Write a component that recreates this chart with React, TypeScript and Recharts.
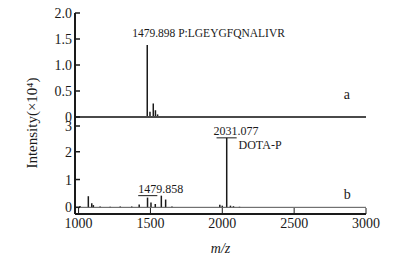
import { Bar, ComposedChart, ReferenceDot, ReferenceLine, XAxis, YAxis } from "recharts";

const font = '"Liberation Serif", "Times New Roman", serif';
const ink = "#1a1a1a";

// m/z axis shared by both spectra
const mzDomain = [975, 3000];
const mzTicks = [1000, 1500, 2000, 2500, 3000];

// spectrum a (peptide)
const topMz = [1080, 1480, 1499, 1522, 1537, 1552, 1610, 1700];
const topIntensity = [0.02, 1.385, 0.1, 0.26, 0.13, 0.05, 0.02, 0.015];
const topTicks = [0, 0.5, 1, 1.5, 2];

// spectrum b (DOTA-P)
const bottomMz = [
  1010, 1068, 1092, 1103, 1150, 1220, 1290, 1370, 1422, 1480, 1504, 1534, 1576,
  1606, 1650, 1983, 2000, 2031, 2057, 2078, 2120,
];
const bottomIntensity = [
  0.05, 0.4, 0.15, 0.08, 0.03, 0.02, 0.03, 0.03, 0.1, 0.35, 0.17, 0.12, 0.42,
  0.28, 0.03, 0.09, 0.06, 2.5, 0.06, 0.04, 0.02,
];
const bottomTicks = [0, 1, 2, 3];

const topData = topMz.map((mz, i) => ({ mz, intensity: topIntensity[i] }));
const bottomData = bottomMz.map((mz, i) => ({ mz, intensity: bottomIntensity[i] }));

const noteStyle = { fill: ink, fontSize: 12, fontFamily: font };

// ticks point inward, so draw the mark and the text together
function LeftTick(props: any) {
  const { x, y, payload, fmt } = props;
  const v = payload.value as number;
  return (
    <g>
      <line x1={x + 3} x2={x + 8} y1={y} y2={y} stroke={ink} strokeWidth={1.5} />
      <text x={x} y={y} dy="0.36em" textAnchor="end" fill={ink} fontSize={14} fontFamily={font}>
        {fmt ? fmt(v) : v}
      </text>
    </g>
  );
}

function BottomTick(props: any) {
  const { x, y, payload } = props;
  return (
    <g>
      <line x1={x} x2={x} y1={y - 4} y2={y - 10} stroke={ink} strokeWidth={1} />
      <text x={x} y={y} dy="0.72em" textAnchor="middle" fill={ink} fontSize={14} fontFamily={font}>
        {payload.value}
      </text>
    </g>
  );
}

const fmtTop = (v: number) => (v === 0 ? "0" : v.toFixed(1));

export default function App() {
  return (
    <div
      style={{
        position: "absolute",
        left: 0,
        top: 0,
        width: 413,
        height: 268,
        background: "#fff",
        fontFamily: font,
      }}
    >
      <div style={{ position: "absolute", left: 0, top: 0 }}>
        <ComposedChart
          width={413}
          height={130}
          data={topData}
          margin={{ top: 13, right: 47, bottom: 13, left: 0 }}
        >
          <XAxis
            dataKey="mz"
            type="number"
            domain={mzDomain}
            allowDataOverflow
            tick={false}
            tickLine={false}
            axisLine={false}
            height={0}
          />
          <YAxis
            type="number"
            domain={[0, 2]}
            ticks={topTicks}
            allowDataOverflow
            width={75}
            tickSize={0}
            tickMargin={3}
            tickLine={false}
            tick={(p: any) => <LeftTick {...p} fmt={fmtTop} />}
            axisLine={{ stroke: ink, strokeWidth: 2 }}
          />
          <ReferenceLine y={0} stroke="#4a4a4a" strokeWidth={2} />
          <Bar dataKey="intensity" barSize={1.5} fill={ink} isAnimationActive={false} />
          <ReferenceDot
            x={1373}
            y={1.615}
            r={0}
            stroke="none"
            fill="none"
            label={{ value: "1479.898 P:LGEYGFQNALIVR", position: "right", offset: 0, ...noteStyle, fontSize: 11.5 }}
          />
          <ReferenceDot
            x={2846}
            y={0.44}
            r={0}
            stroke="none"
            fill="none"
            label={{ value: "a", position: "right", offset: 0, ...noteStyle, fontSize: 14 }}
          />
        </ComposedChart>
      </div>
      <div style={{ position: "absolute", left: 0, top: 117 }}>
        <ComposedChart
          width={413}
          height={151}
          data={bottomData}
          margin={{ top: 0, right: 47, bottom: 0, left: 0 }}
        >
          <XAxis
            dataKey="mz"
            type="number"
            domain={mzDomain}
            ticks={mzTicks}
            allowDataOverflow
            height={54}
            tickSize={0}
            tickMargin={4}
            tickLine={false}
            tick={(p: any) => <BottomTick {...p} />}
            axisLine={{ stroke: ink, strokeWidth: 2 }}
            label={{
              value: "m/z",
              position: "insideBottom",
              offset: 15,
              fill: ink,
              fontSize: 14,
              fontFamily: font,
              fontStyle: "italic",
            }}
          />
          <YAxis
            type="number"
            domain={[-0.24, 3.25]}
            ticks={bottomTicks}
            allowDataOverflow
            width={75}
            tickSize={0}
            tickMargin={3}
            tickLine={false}
            tick={(p: any) => <LeftTick {...p} />}
            axisLine={{ stroke: ink, strokeWidth: 2 }}
          />
          <ReferenceLine y={0} stroke="#555" strokeWidth={1} />
          <Bar dataKey="intensity" barSize={1.5} fill={ink} isAnimationActive={false} />
          <ReferenceLine
            segment={[
              { x: 1960, y: 2.5 },
              { x: 2100, y: 2.5 },
            ]}
            stroke={ink}
            strokeWidth={1}
          />
          <ReferenceLine
            segment={[
              { x: 1415, y: 0.42 },
              { x: 1548, y: 0.42 },
            ]}
            stroke={ink}
            strokeWidth={1}
          />
          <ReferenceDot
            x={1939}
            y={2.746}
            r={0}
            stroke="none"
            fill="none"
            label={{ value: "2031.077", position: "right", offset: 0, ...noteStyle }}
          />
          <ReferenceDot
            x={2113}
            y={2.243}
            r={0}
            stroke="none"
            fill="none"
            label={{ value: "DOTA-P", position: "right", offset: 0, ...noteStyle }}
          />
          <ReferenceDot
            x={1415}
            y={0.659}
            r={0}
            stroke="none"
            fill="none"
            label={{ value: "1479.858", position: "right", offset: 0, ...noteStyle }}
          />
          <ReferenceDot
            x={2846}
            y={0.48}
            r={0}
            stroke="none"
            fill="none"
            label={{ value: "b", position: "right", offset: 0, ...noteStyle, fontSize: 14 }}
          />
        </ComposedChart>
      </div>
      <div
        style={{
          position: "absolute",
          left: 32,
          top: 123,
          transform: "translate(-50%, -50%) rotate(-90deg)",
          whiteSpace: "nowrap",
          fontSize: 15,
          color: ink,
          lineHeight: 1,
        }}
      >
        Intensity(×10⁴)
      </div>
    </div>
  );
}
